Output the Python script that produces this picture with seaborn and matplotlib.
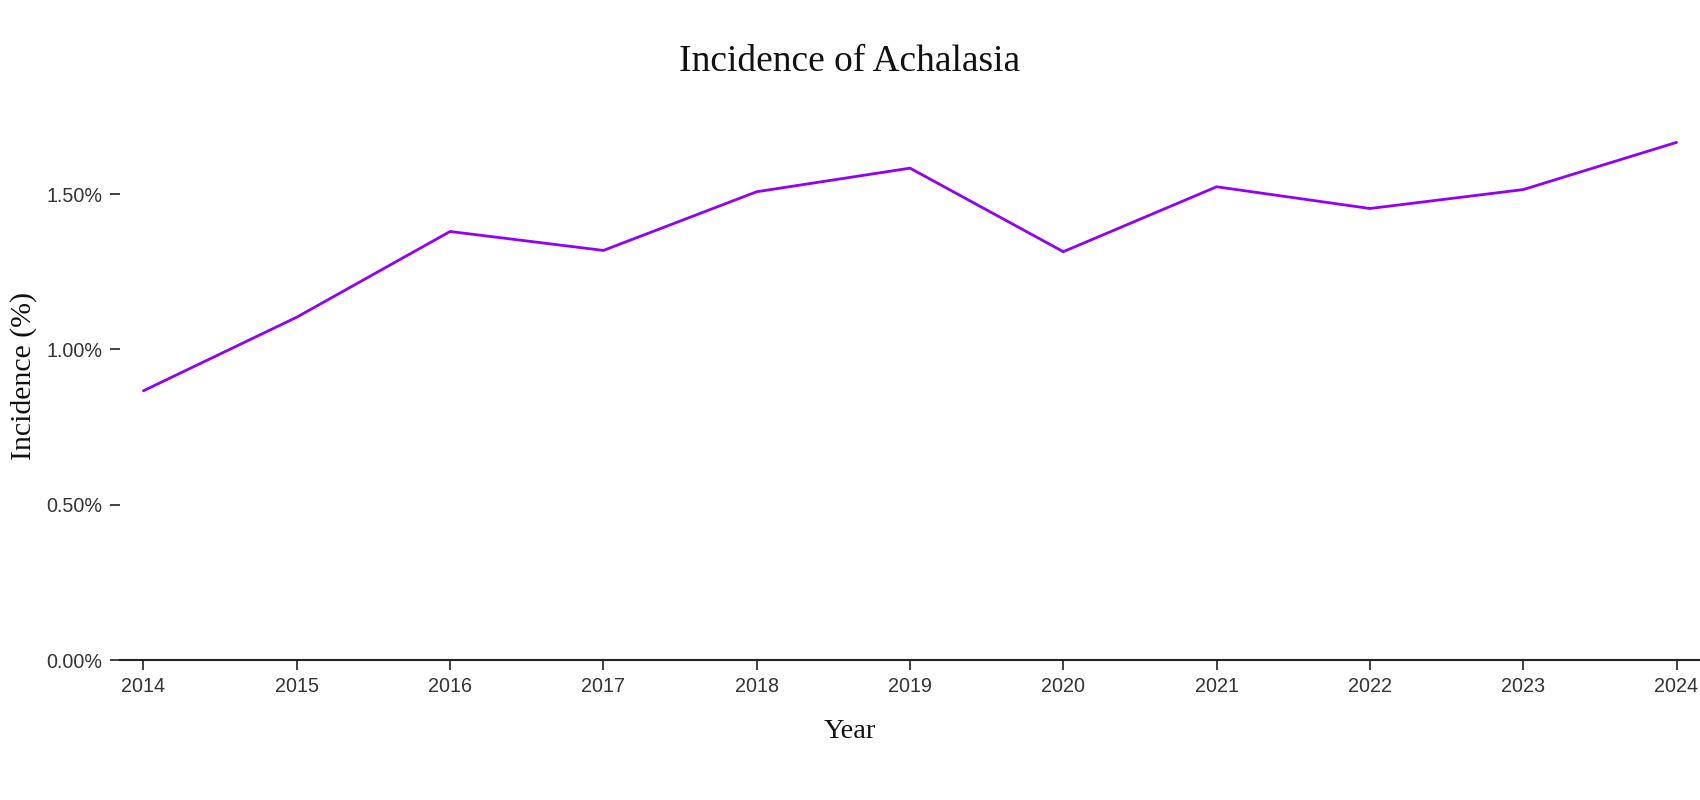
import matplotlib
matplotlib.use("Agg")
import matplotlib.pyplot as plt
from matplotlib.ticker import FuncFormatter
import seaborn as sns
import pandas as pd

years = [2014, 2015, 2016, 2017, 2018, 2019, 2020, 2021, 2022, 2023, 2024]
incidence = [0.867, 1.104, 1.380, 1.319, 1.508, 1.584, 1.315, 1.524, 1.454, 1.515, 1.667]
y_ticks = [0.0, 0.5, 1.0, 1.5]

df = pd.DataFrame({'Year': years, 'Incidence': incidence})

sns.set_style('ticks')
serif = ['Liberation Serif', 'DejaVu Serif']
sans = ['Liberation Sans', 'DejaVu Sans']

fig = plt.figure(figsize=(17, 8), dpi=100)
ax = fig.add_axes([120 / 1700, 1 - 660 / 800, 1580 / 1700, (660 - 116.6) / 800])

sns.lineplot(data=df, x='Year', y='Incidence', ax=ax, color='#8F00FF', linewidth=2.0)

ax.set_xlim(2013.847, 2024.153)
ax.set_ylim(0, 1.75)
ax.set_xticks(years)
ax.set_yticks(y_ticks)
ax.yaxis.set_major_formatter(FuncFormatter(lambda v, p: f'{v:.2f}%'))

for s in ['top', 'right', 'left']:
    ax.spines[s].set_visible(False)
ax.spines['bottom'].set_color('#222222')
ax.spines['bottom'].set_linewidth(1.5)

ax.tick_params(axis='both', length=7.5, width=1.2, color='#222222',
               labelcolor='#333333', labelsize=14.2)
ax.tick_params(axis='y', pad=5)
ax.tick_params(axis='x', pad=5)
for lab in ax.get_xticklabels() + ax.get_yticklabels():
    lab.set_family(sans)

ax.set_xlabel('Year', family=serif, fontsize=20.5, color='#111111')
ax.xaxis.set_label_coords((850 - 120) / 1580, (660 - 732) / 543.4)
ax.xaxis.label.set_va('center')
ax.set_ylabel('Incidence (%)', family=serif, fontsize=21.5, color='#111111')
ax.yaxis.set_label_coords((24 - 120) / 1580, (660 - 376) / 543.4)
ax.yaxis.label.set_va('center')

fig.suptitle('Incidence of Achalasia', family=serif, fontsize=27, color='#111111',
             x=0.5, y=1 - 62 / 800, va='center')

fig.savefig('out.png', dpi=100)
plt.close(fig)
